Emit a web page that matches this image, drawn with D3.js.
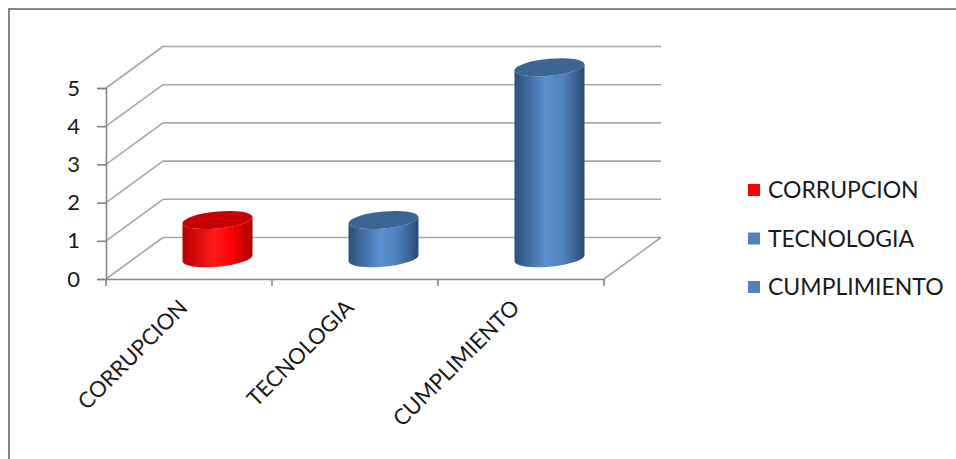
<!DOCTYPE html>
<html>
<head>
<meta charset="utf-8">
<script src="https://cdn.jsdelivr.net/npm/d3@7"></script>
<style>
  body { margin: 0; background: #fff; }
  text { font-family: Lato, "Open Sans", sans-serif; fill: #1a1a1a; }
</style>
</head>
<body>
<script>
// data
var categories = ["CORRUPCION", "TECNOLOGIA", "CUMPLIMIENTO"];
var values = [1, 1, 5];
var yTicks = [0, 1, 2, 3, 4, 5];
var colors = ["red", "blue", "blue"];

var width = 956, height = 459;

// front plane + depth of the 3d box
var plotLeft = 106, plotRight = 604, plotBottom = 279, plotTop = 88;
var depthX = 57, depthY = -41.5;

var svg = d3.select("body").append("svg")
    .attr("width", width)
    .attr("height", height);

// chart border (right/bottom run off the picture)
svg.append("rect")
    .attr("x", 9).attr("y", 9)
    .attr("width", 1000).attr("height", 500)
    .style("fill", "none")
    .style("stroke", "#868686")
    .style("stroke-width", 2);

var xScale = d3.scaleBand()
    .domain(categories)
    .range([plotLeft, plotRight]);

var yScale = d3.scaleLinear()
    .domain([0, 5])
    .range([plotBottom, plotTop]);

// gradients for the cylinders
var defs = svg.append("defs");
var grads = {
    red: ["#b80000", "#ff1a1a", "#ff0000", "#a80000"],
    blue: ["#2d5079", "#5a8fd0", "#4f81bd", "#2a4a72"]
};
Object.keys(grads).forEach(function (k) {
    var g = defs.append("linearGradient")
        .attr("id", "grad-" + k)
        .attr("x1", "0%").attr("x2", "100%")
        .attr("y1", "0%").attr("y2", "0%");
    var stops = [0, 0.45, 0.7, 1];
    grads[k].forEach(function (c, i) {
        g.append("stop").attr("offset", stops[i]).attr("stop-color", c);
    });
});
var topColors = { red: "#c80000", blue: "#3b6593" };
var legendColors = { red: "#ff0000", blue: "#4f81bd" };

var gridColor = "#a6a6a6";
var grid = svg.append("g");

yTicks.forEach(function (t) {
    var y = yScale(t);
    // back wall
    grid.append("line")
        .attr("x1", plotLeft + depthX).attr("x2", plotRight + depthX)
        .attr("y1", y + depthY).attr("y2", y + depthY)
        .style("stroke", gridColor).style("stroke-width", 1.6);
    // side wall
    grid.append("line")
        .attr("x1", plotLeft).attr("x2", plotLeft + depthX)
        .attr("y1", y).attr("y2", y + depthY)
        .style("stroke", gridColor).style("stroke-width", 1.6);
});

// floor right edge
grid.append("line")
    .attr("x1", plotRight).attr("x2", plotRight + depthX)
    .attr("y1", plotBottom).attr("y2", plotBottom + depthY)
    .style("stroke", gridColor).style("stroke-width", 1.6);

// y axis
var yAxis = d3.axisLeft(yScale)
    .tickValues(yTicks)
    .tickFormat(d3.format("d"))
    .tickSize(9)
    .tickPadding(17);

var gy = svg.append("g")
    .attr("transform", "translate(" + plotLeft + ",0)")
    .call(yAxis);
gy.selectAll("text").style("font-size", "22px");

// x axis
var xAxis = d3.axisBottom(xScale)
    .tickValues([])
    .tickSizeOuter(0);
var gx = svg.append("g")
    .attr("transform", "translate(0," + plotBottom + ")")
    .call(xAxis);

// category ticks at band edges
var edges = categories.map(function (c) { return xScale(c); }).concat([plotRight]);
gx.selectAll(".edge")
    .data(edges)
    .enter().append("line")
    .attr("class", "edge")
    .attr("x1", function (d) { return d; })
    .attr("x2", function (d) { return d; })
    .attr("y1", 0).attr("y2", 7);

svg.selectAll(".domain, .tick line, .edge")
    .style("stroke", "#868686")
    .style("stroke-width", 1.6);

// category labels
svg.selectAll(".cat-label")
    .data(categories)
    .enter().append("text")
    .attr("class", "cat-label")
    .attr("text-anchor", "end")
    .style("font-size", "22px")
    .attr("transform", function (d) {
        var x = xScale(d) + xScale.bandwidth() / 2;
        return "translate(" + x + "," + (plotBottom + 30) + ") rotate(-45)";
    })
    .text(function (d) { return d; });

// cylinders
var rx = 35, ry = 8.5;
var cyl = svg.selectAll(".cyl")
    .data(categories)
    .enter().append("g")
    .attr("class", "cyl")
    .attr("transform", function (d) {
        var cx = xScale(d) + xScale.bandwidth() / 2 + depthX / 2;
        return "translate(" + cx + ",0) skewY(-5)";
    });

cyl.append("path")
    .attr("d", function (d, i) {
        var y0 = yScale(0) + depthY / 2;
        var y1 = yScale(values[i]) + depthY / 2;
        return "M" + (-rx) + "," + y1 +
            " L" + (-rx) + "," + y0 +
            " A" + rx + "," + ry + " 0 0 0 " + rx + "," + y0 +
            " L" + rx + "," + y1 +
            " A" + rx + "," + ry + " 0 0 1 " + (-rx) + "," + y1 + " Z";
    })
    .style("fill", function (d, i) { return "url(#grad-" + colors[i] + ")"; });

cyl.append("ellipse")
    .attr("cx", 0)
    .attr("cy", function (d, i) { return yScale(values[i]) + depthY / 2; })
    .attr("rx", rx)
    .attr("ry", ry)
    .style("fill", function (d, i) { return topColors[colors[i]]; });

// legend
var legend = svg.selectAll(".legend")
    .data(categories)
    .enter().append("g")
    .attr("class", "legend")
    .attr("transform", function (d, i) {
        return "translate(748," + (190 + i * 48.5) + ")";
    });

legend.append("rect")
    .attr("x", 0).attr("y", -6)
    .attr("width", 12).attr("height", 12)
    .style("fill", function (d, i) { return legendColors[colors[i]]; });

legend.append("text")
    .attr("x", 20)
    .attr("dy", "0.36em")
    .style("font-size", "23px")
    .text(function (d) { return d; });
</script>
</body>
</html>
